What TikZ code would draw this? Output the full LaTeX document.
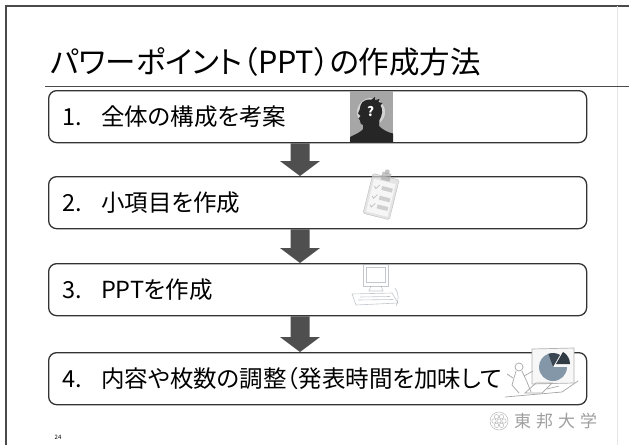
\documentclass[tikz,border=0pt]{standalone}
\usepackage{fontspec}
\setmainfont{Noto Sans CJK JP}
\newfontfamily\titlefont[RawFeature=+palt]{Noto Sans CJK JP}
\usetikzlibrary{calc}

\definecolor{frameline}{HTML}{4A4A4A}
\definecolor{boxline}{HTML}{333333}
\definecolor{arrowgray}{HTML}{4F4F4F}
\definecolor{headdark}{HTML}{262626}
\definecolor{headbg}{HTML}{A6A6A6}
\definecolor{headglow}{HTML}{D2D2D2}
\definecolor{piedark}{HTML}{3A4652}
\definecolor{pielight}{HTML}{8497A8}
\definecolor{sketch}{HTML}{9AA3AD}

% block arrow pointing down from the bottom of #1 to the top of #2, centred on x=#3
\newcommand\blockdown[3]{%
  \fill[arrowgray] let \p1=(#1.south), \p2=(#2.north) in
    (#3-9.5pt,\y1) -- (#3+9.5pt,\y1) -- (#3+9.5pt,\y2+15pt) -- (#3+20pt,\y2+15pt)
    -- (#3,\y2) -- (#3-20pt,\y2+15pt) -- (#3-9.5pt,\y2+15pt) -- cycle;}

\begin{document}
\begin{tikzpicture}[x=1pt,y=-1pt,
  stepbox/.style={draw=boxline, line width=1.3pt, rounded corners=8pt,
    anchor=north west, minimum width=538pt, minimum height=52pt,
    text width=510pt, inner xsep=14pt, inner ysep=0pt, align=left,
    font=\titlefont\fontsize{23.5}{23.5}\selectfont},
  sketchline/.style={draw=sketch, line width=0.6pt}]

\useasboundingbox (0,0) rectangle (629,445);
\fill[white] (0,0) rectangle (629,445);

% slide frame
\draw[frameline, line width=1.4pt] (6,445) -- (6,6) -- (629,6);
\draw[gray!20, line width=0.6pt] (617,6) -- (617,445);

% title and rule
\node[anchor=west, inner sep=0pt, font=\titlefont\fontsize{30.5}{30.5}\selectfont]
  (title) at (50,62) {パワーポイント（PPT）の作成方法};
\draw[frameline, line width=0.9pt] (45,86) -- (629,86);

% steps
\node[stepbox] (s1) at (48,90)  {1.\hspace{0.8em}全体の構成を考案};
\node[stepbox] (s2) at (48,176) {2.\hspace{0.8em}小項目を作成};
\node[stepbox] (s3) at (48,263) {3.\hspace{0.8em}PPTを作成};
\node[stepbox] (s4) at (48,352) {4.\hspace{0.8em}内容や枚数の調整（発表時間を加味して};

\blockdown{s1}{s2}{300pt}
\blockdown{s2}{s3}{300pt}
\blockdown{s3}{s4}{300pt}

% thinking head with question mark
\fill[headbg] (350,91) rectangle (393,142);
\fill[headglow] (371,112) circle (14);
\fill[headdark] (350,142) -- (350,137) .. controls (356,134) and (361,132) .. (363,129)
  -- (363,125) .. controls (361,125) and (360,123) .. (360,120.5) -- (358.5,118.5) -- (360.5,116)
  -- (358,113.5) .. controls (359.5,110.5) and (360.5,108) .. (360.5,105.5)
  .. controls (361.5,101) and (367,99) .. (371.5,99.5) -- (375,97) -- (375,100) -- (379.5,99)
  -- (378.5,102) -- (382.5,103) -- (380.5,105.5) .. controls (383,109) and (382.5,115) .. (379.5,120)
  -- (379,126) .. controls (383,130) and (388,132.5) .. (393,133.5) -- (393,142) -- cycle;
\node[text=white, font=\bfseries\fontsize{13}{13}\selectfont, inner sep=0pt]
  (qmark) at (370.5,112) {?};

% clipboard
\begin{scope}[rotate around={-14:(381,195)}, opacity=0.7]
  \fill[gray!30, draw=gray!60, line width=0.5pt, rounded corners=1.5pt] (368,176) rectangle (395,217);
  \fill[white] (370.5,181) rectangle (392.5,214.5);
  \fill[gray!65] (377,172) rectangle (386,180);
  \fill[gray!65] (381.5,171) circle (2.5);
  \foreach \yy in {188,198,207} {
    \draw[gray!70, line width=0.7pt] (372.5,\yy) -- (374.5,\yy+2) -- (377.5,\yy-2.5);
    \fill[gray!50] (380,\yy-2) rectangle (391,\yy+2);
  }
\end{scope}

% computer sketch
\begin{scope}[sketchline, opacity=0.6]
  \draw (363,264) rectangle (388,286);
  \draw (366,267) rectangle (385,282);
  \draw (371,286) -- (369,291) -- (383,291) -- (381,286);
  \draw (352,294) -- (392,293) -- (398,303) -- (356,305) -- cycle;
  \draw (360,297) -- (390,296.5) (358,300) -- (393,299.5);
  \draw (395,288) .. controls (399,293) and (399,300) .. (396,306);
\end{scope}

% pie chart with presenter
\fill[gray!6, draw=gray!60, line width=0.7pt] (532,349) -- (574,348) -- (574,383) -- (532,384) -- cycle;
\fill[pielight] (553,367) -- ++(0:14) arc[start angle=0, end angle=250, radius=14] -- cycle;
\fill[piedark] (553,367) -- ++(250:14) arc[start angle=250, end angle=300, radius=14] -- cycle;
\fill[piedark!85!black] (556,364) -- ++(300:14) arc[start angle=300, end angle=360, radius=14] -- cycle;
\begin{scope}[draw=gray!70, line width=0.7pt]
  \draw (519,367) circle (4);
  \draw (516,371) -- (512,385) -- (519,393);
  \draw (522,371) -- (527,382) -- (531,392);
  \draw (513,378) -- (507,374);
  \draw (524,376) -- (533,371);
  \draw (525,393) -- (536,383) -- (552,383) -- (542,393) -- cycle;
  \draw (505,397) -- (562,392) -- (578,381);
  \draw (547,389) -- (559,386);
\end{scope}

% page number and university mark
\node[font=\fontsize{6}{6}\selectfont, inner sep=0pt] (pageno) at (58,437) {24};
\begin{scope}[gray!55, line width=0.5pt]
  \draw (499,421) circle (9);
  \foreach \a in {0,60,...,300} \draw (499,421) ++(\a:5) circle (2.2);
  \draw (499,421) circle (2);
\end{scope}
\node[anchor=west, inner sep=0pt, text=gray!75, font=\fontsize{17}{17}\selectfont]
  (univ) at (514,421) {東\hspace{5pt}邦\hspace{5pt}大\hspace{5pt}学};

\end{tikzpicture}
\end{document}
